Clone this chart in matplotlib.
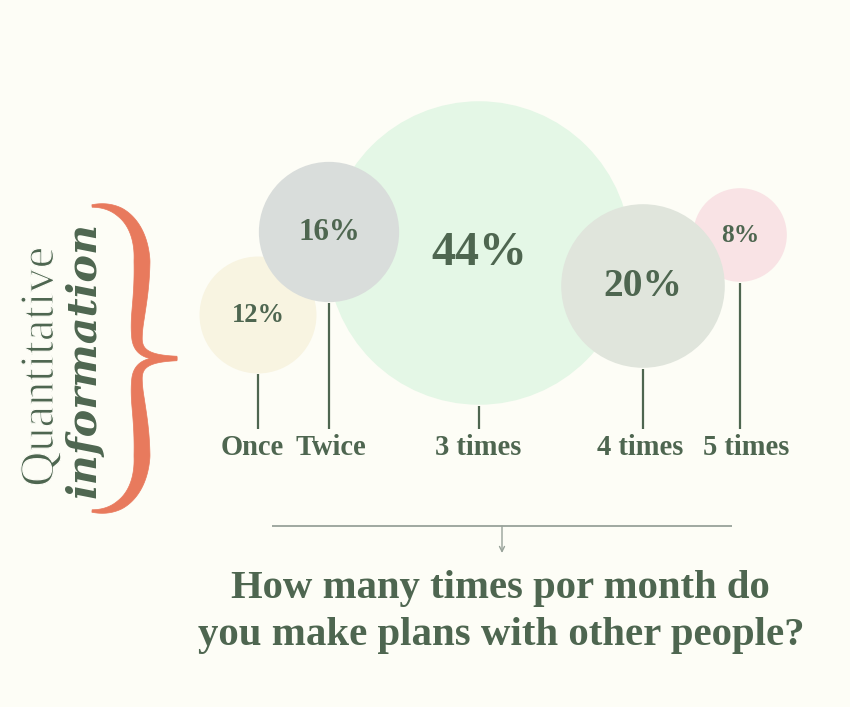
import numpy as np
import matplotlib
matplotlib.use("Agg")
import matplotlib.pyplot as plt
from matplotlib.patches import Circle, Polygon
import matplotlib.patheffects as pe

# ---------------- data ----------------
categories = ["Once", "Twice", "3 times", "4 times", "5 times"]
shares = [12, 16, 44, 20, 8]                      # percent of respondents
value_labels = ["12%", "16%", "44%", "20%", "8%"]
title_lines = ["How many times por month do", "you make plans with other people?"]
side_light = "Quantitative"
side_bold = "information"

# ---------------- layout / style ----------------
W, H = 850, 707
centers = [(258, 315), (329, 232), (479, 253), (643, 286), (740, 235)]   # bubble layout (px)
label_dx = [-6, 2, -1, -3, 6]                      # category label nudges (px)
fills = ["#F8F4E1", "#D9DDDB", "#E4F7E6", "#E0E5DC", "#F9E3E5"]
zorders = [3, 4, 1, 5, 2]
label_px = [26.5, 31, 48, 39.5, 25.5]              # percent label em size (px)
ink = "#4E6650"
bg = "#FDFDF6"
brace_col = "#E87A5D"
rule_col = "#98A299"
stem_end_y = 429
label_baseline = 455

def radius(v):
    # linear size scale fitted to the reference bubbles
    return 23.5 + 2.915 * v

def px2pt(px):
    return px * 72.0 / 100.0

fig = plt.figure(figsize=(W / 100, H / 100), dpi=100, facecolor=bg)
ax = fig.add_axes([0, 0, 1, 1])
ax.set_xlim(0, W)
ax.set_ylim(H, 0)
ax.set_facecolor(bg)
ax.axis("off")

serif = ["Liberation Serif", "DejaVu Serif"]

for cat, v, lab, (cx, cy), fc, z, fpx, dx in zip(categories, shares, value_labels,
                                                 centers, fills, zorders, label_px, label_dx):
    r = radius(v)
    ax.add_patch(Circle((cx, cy), r, facecolor=fc, edgecolor="none", zorder=z))
    ax.text(cx, cy, lab, ha="center", va="center", fontsize=px2pt(fpx),
            fontweight="bold", family=serif, color=ink, zorder=10)
    ax.plot([cx, cx], [cy + r + 1, stem_end_y], color=ink, lw=1.6, zorder=10,
            solid_capstyle="butt")
    ax.text(cx + dx, label_baseline, cat, ha="center", va="baseline",
            fontsize=px2pt(28.5), fontweight="bold", family=serif, color=ink)

# ---------------- rule + arrow ----------------
ax.plot([272, 732], [526, 526], color=rule_col, lw=1.3, solid_capstyle="butt")
ax.annotate("", xy=(502, 553), xytext=(502, 526),
            arrowprops=dict(arrowstyle="->", color=rule_col, lw=1.0,
                            mutation_scale=9, shrinkA=0, shrinkB=0))

# ---------------- title ----------------
fig.canvas.draw()
renderer = fig.canvas.get_renderer()

def fitted_text(x, y, s, target_w, **kw):
    t = ax.text(x, y, s, **kw)
    bb = t.get_window_extent(renderer=renderer)
    fs = t.get_fontsize()
    cur = bb.height if kw.get("rotation", 0) == 90 else bb.width
    t.set_fontsize(fs * target_w / cur)
    return t

fitted_text(500, 598, title_lines[0], 540, ha="center", va="baseline",
            fontsize=28, fontweight="bold", family=serif, color=ink)
fitted_text(501, 645, title_lines[1], 608, ha="center", va="baseline",
            fontsize=28, fontweight="bold", family=serif, color=ink)

# ---------------- side labels ----------------
tq = fitted_text(41, 367, side_light, 240, ha="center", va="center", rotation=90,
                 rotation_mode="anchor", fontsize=34, family=serif, color=ink)
tq.set_path_effects([pe.Normal(), pe.Stroke(linewidth=0.9, foreground=bg)])
fitted_text(85, 360, side_bold, 276, ha="center", va="center", rotation=90,
            rotation_mode="anchor", fontsize=30, fontweight="bold",
            style="italic", family=["DejaVu Serif"], color=ink)

# ---------------- curly brace ----------------
def bez(p0, p1, p2, p3, n=60):
    t = np.linspace(0, 1, n)[:, None]
    p0, p1, p2, p3 = map(np.asarray, (p0, p1, p2, p3))
    return (1 - t) ** 3 * p0 + 3 * (1 - t) ** 2 * t * p1 + 3 * (1 - t) * t ** 2 * p2 + t ** 3 * p3

def stroke_poly(pts, widths):
    d = np.gradient(pts, axis=0)
    d /= np.linalg.norm(d, axis=1)[:, None]
    nrm = np.column_stack([-d[:, 1], d[:, 0]])
    left = pts + nrm * widths[:, None] / 2
    right = pts - nrm * widths[:, None] / 2
    return np.vstack([left, right[::-1]])

seg1 = bez((92, 206), (122, 203), (142, 226), (142, 262))
seg2 = bez((142, 262), (142, 300), (136, 318), (137, 338))[1:]
seg3 = bez((137, 338), (138, 355), (152, 358), (177, 358))[1:]
top = np.vstack([seg1, seg2, seg3])
s = np.linspace(0, 1, len(top))
w = np.interp(s, [0, 0.12, 0.33, 0.55, 0.78, 1.0], [2.5, 9, 16, 13, 8, 3.5])
mid = 358.5
for sign in (1, -1):
    pts = top.copy()
    if sign == -1:
        pts[:, 1] = 2 * mid - pts[:, 1]
    ax.add_patch(Polygon(stroke_poly(pts, w), closed=True, facecolor=brace_col,
                         edgecolor=brace_col, lw=0.5, zorder=6))

fig.savefig("out.png", dpi=100, facecolor=bg)
